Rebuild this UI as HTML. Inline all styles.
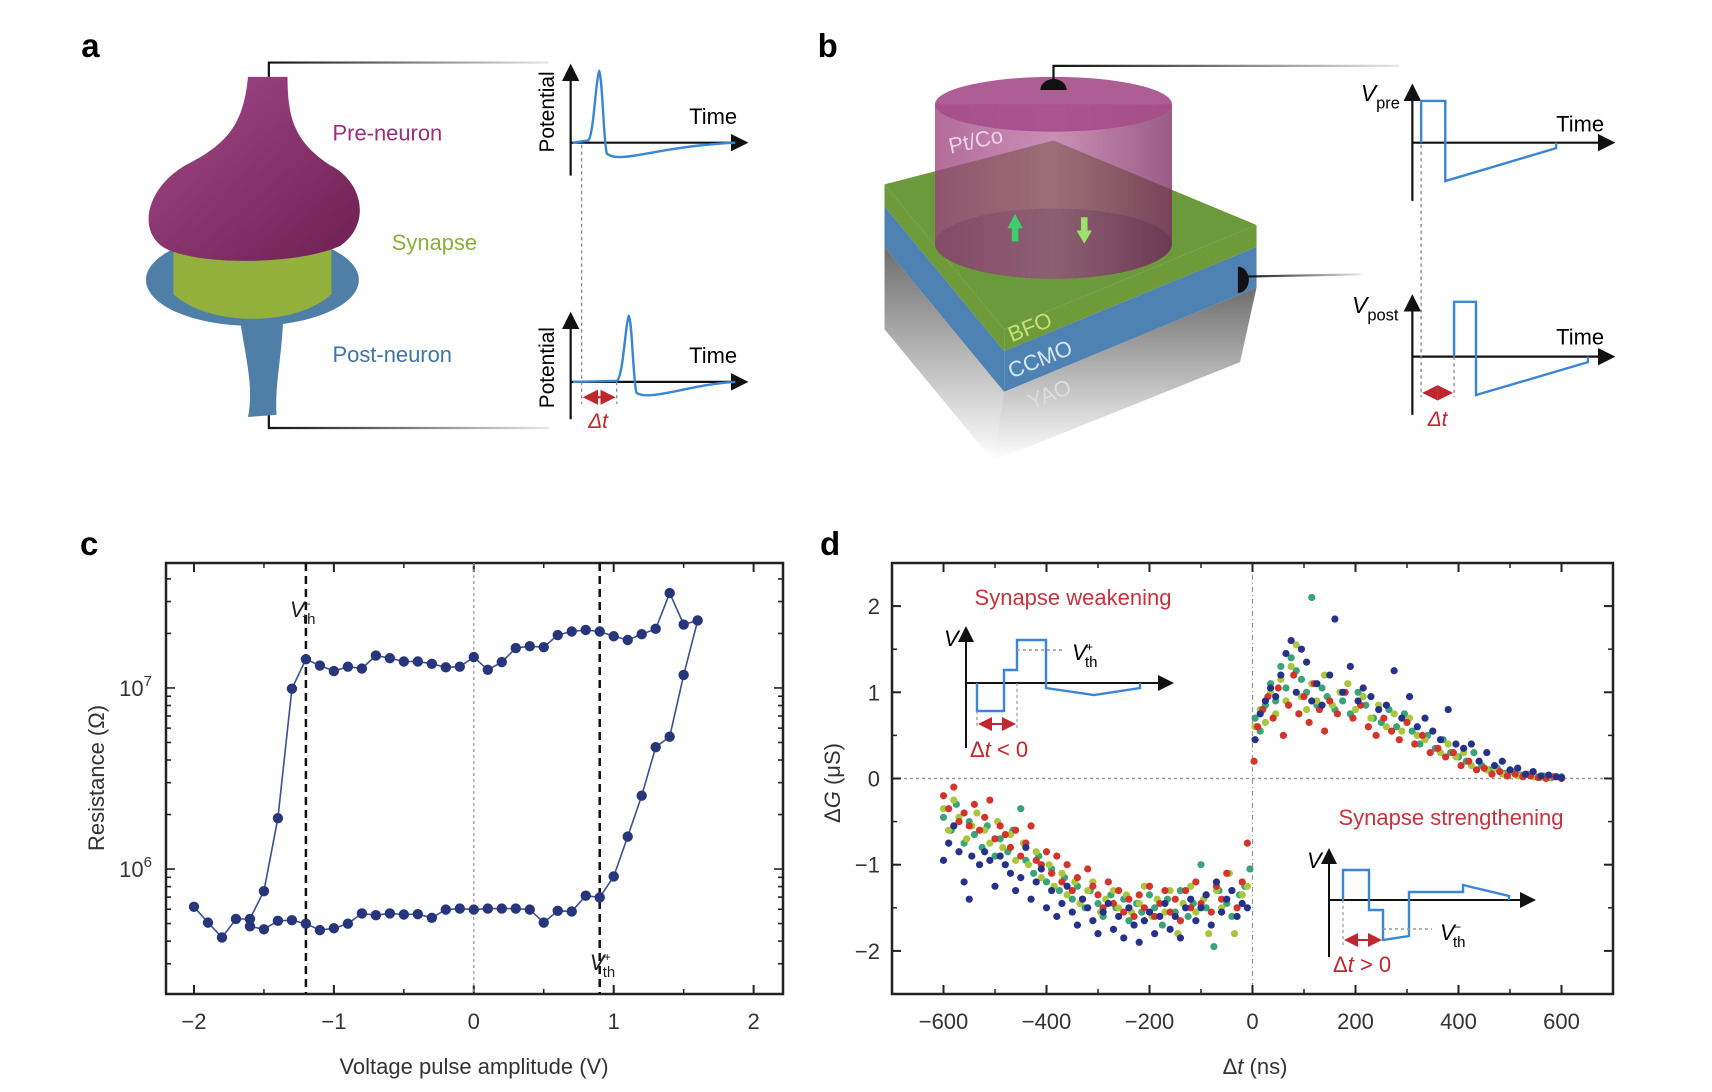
<!DOCTYPE html>
<html><head><meta charset="utf-8"><style>
html,body{margin:0;padding:0;background:#fff}
svg{display:block;font-family:"Liberation Sans",sans-serif}
</style></head><body>
<svg id="fig" width="1712" height="1092" viewBox="0 0 1712 1092" xmlns="http://www.w3.org/2000/svg">
<defs>
<linearGradient id="fadeLine" x1="0" x2="1"><stop offset="0" stop-color="#111"/><stop offset="1" stop-color="#111" stop-opacity="0.1"/></linearGradient>
<linearGradient id="purp" x1="0" y1="0" x2="1" y2="1"><stop offset="0" stop-color="#a24a8a"/><stop offset="1" stop-color="#6e1f52"/></linearGradient>
<linearGradient id="cyl" x1="0" x2="1"><stop offset="0" stop-color="#9a3f7c" stop-opacity="0.9"/><stop offset="0.5" stop-color="#b15a92" stop-opacity="0.8"/><stop offset="1" stop-color="#7a2a5f" stop-opacity="0.9"/></linearGradient>
<linearGradient id="grayfade" x1="0" y1="0" x2="0" y2="1"><stop offset="0" stop-color="#6e6e6e"/><stop offset="1" stop-color="#6e6e6e" stop-opacity="0"/></linearGradient>
<marker id="arr" markerWidth="8" markerHeight="8" refX="6" refY="4" orient="auto"><path d="M0,0 L8,4 L0,8 Z" fill="#111"/></marker>
<marker id="rarrE" markerWidth="7" markerHeight="7" refX="6" refY="3.5" orient="auto"><path d="M0,0 L7,3.5 L0,7 Z" fill="#c0262d"/></marker>
<marker id="rarrS" markerWidth="7" markerHeight="7" refX="1" refY="3.5" orient="auto"><path d="M7,0 L0,3.5 L7,7 Z" fill="#c0262d"/></marker>
</defs>

<g transform="scale(1.0974)">
 <g>
  <text x="74" y="52" font-size="30" font-weight="bold">a</text>
  <polyline points="245,70 245,57 500,57" fill="none" stroke="url(#fadeLine)" stroke-width="2"/>
  <polyline points="245,378 245,390 500,390" fill="none" stroke="url(#fadeLine)" stroke-width="2"/>
  <ellipse cx="230" cy="255" rx="97" ry="42" fill="#4f7fa6"/>
  <path d="M218,285 C222,320 232,350 226,380 L252,378 C250,350 258,320 258,285 Z" fill="#4f7fa6"/>
  <path d="M158,222 L302,222 L302,268 C270,298 190,298 158,268 Z" fill="#93b03c"/>
  <path d="M226,70 L262,70 C262,110 270,130 300,150 C332,166 338,205 310,224 C270,242 180,242 150,226 C124,210 134,170 170,150 C210,130 222,110 226,70 Z" fill="url(#purp)"/>
  <text x="303" y="128" font-size="20" fill="#9b2d7a">Pre-neuron</text>
  <text x="357" y="228" font-size="20" fill="#8fad3a">Synapse</text>
  <text x="303" y="330" font-size="20" fill="#3e74a6">Post-neuron</text>
  <g>
   <line x1="520" y1="160" x2="520" y2="62" stroke="#111" stroke-width="2" marker-end="url(#arr)"/>
   <line x1="520" y1="130" x2="678" y2="130" stroke="#111" stroke-width="2" marker-end="url(#arr)"/>
   <path d="M522,130 L536,128 C541,124 543,70 546,65 C549,70 550,130 553,140 C565,150 600,133 670,130" fill="none" stroke="#3a86d4" stroke-width="2.2"/>
   <text x="628" y="113" font-size="20">Time</text>
   <text transform="translate(505,102) rotate(-90)" text-anchor="middle" font-size="19">Potential</text>
  </g>
  <line x1="530" y1="132" x2="530" y2="368" stroke="#888" stroke-width="1.2" stroke-dasharray="3,3"/>
  <g>
   <line x1="520" y1="382" x2="520" y2="288" stroke="#111" stroke-width="2" marker-end="url(#arr)"/>
   <line x1="520" y1="348" x2="678" y2="348" stroke="#111" stroke-width="2" marker-end="url(#arr)"/>
   <path d="M522,348 L562,347 C568,344 570,292 573,288 C576,292 577,348 580,358 C592,366 630,350 670,348" fill="none" stroke="#3a86d4" stroke-width="2.2"/>
   <line x1="562" y1="348" x2="562" y2="368" stroke="#888" stroke-width="1.2" stroke-dasharray="3,3"/>
   <line x1="533" y1="362" x2="559" y2="362" stroke="#c0262d" stroke-width="2" marker-end="url(#rarrE)" marker-start="url(#rarrS)"/>
   <text x="545" y="390" font-size="19" fill="#c0262d" text-anchor="middle" font-style="italic">Δt</text>
   <text x="628" y="331" font-size="20">Time</text>
   <text transform="translate(505,335) rotate(-90)" text-anchor="middle" font-size="19">Potential</text>
  </g>
 </g>

 <g>
  <text x="745" y="52" font-size="30" font-weight="bold">b</text>
  <g>
   <polygon points="806,168 915,300 915,320 806,188" fill="#6f9a3a"/>
   <polygon points="806,188 915,320 915,357 806,225" fill="#4d82b3"/>
   <polygon points="806,225 915,357 905,420 806,300" fill="url(#grayfade)"/>
   <polygon points="915,300 1145,205 1145,225 915,320" fill="#6f9a3a"/>
   <polygon points="915,320 1145,225 1145,262 915,357" fill="#4d82b3"/>
   <polygon points="915,357 1145,262 1130,330 905,420" fill="url(#grayfade)"/>
   <polygon points="806,168 960,128 1145,205 915,300" fill="#6b9a3c"/>
   <text transform="translate(922,312) rotate(-22)" font-size="20" fill="#c4e07a">BFO</text>
   <text transform="translate(922,345) rotate(-22)" font-size="20" fill="#d8e6f2">CCMO</text>
   <text transform="translate(940,373) rotate(-22)" font-size="20" fill="#dddddd">YAO</text>
  </g>
  <g>
   <ellipse cx="960" cy="222" rx="108" ry="32" fill="#3e6a2c"/>
   <path d="M852,95 L852,222 A108,32 0 0 0 1068,222 L1068,95 Z" fill="url(#cyl)" opacity="0.85"/>
   <ellipse cx="960" cy="95" rx="108" ry="25" fill="#a64c89" opacity="0.9"/>
   <path d="M925,195 L932,208 L928,208 L928,220 L922,220 L922,208 L918,208 Z" fill="#3fcf6a"/>
   <path d="M988,222 L995,210 L991,210 L991,198 L985,198 L985,210 L981,210 Z" fill="#9be36a"/>
   <text transform="translate(866,140) rotate(-12)" font-size="20" fill="#f0d0e6">Pt/Co</text>
   <path d="M948,82 A12,10 0 0 1 972,82 Z" fill="#111"/>
  </g>
  <polyline points="960,78 960,60 1275,60" fill="none" stroke="url(#fadeLine)" stroke-width="2"/>
  <path d="M1128,243 A10,12 0 0 1 1128,267 Z" fill="#111"/>
  <line x1="1135" y1="252" x2="1240" y2="250" stroke="url(#fadeLine)" stroke-width="2"/>
  <g>
   <line x1="1287" y1="183" x2="1287" y2="80" stroke="#111" stroke-width="2" marker-end="url(#arr)"/>
   <line x1="1287" y1="130" x2="1468" y2="130" stroke="#111" stroke-width="2" marker-end="url(#arr)"/>
   <polyline points="1295,130 1295,92 1317,92 1317,165 1418,135 1418,130" fill="none" stroke="#3a86d4" stroke-width="2.2"/>
   <text x="1240" y="92" font-size="21" font-style="italic">V<tspan font-size="15" font-style="normal" dy="7">pre</tspan></text>
   <text x="1418" y="120" font-size="20">Time</text>
  </g>
  <g>
   <line x1="1287" y1="378" x2="1287" y2="272" stroke="#111" stroke-width="2" marker-end="url(#arr)"/>
   <line x1="1287" y1="325" x2="1468" y2="325" stroke="#111" stroke-width="2" marker-end="url(#arr)"/>
   <polyline points="1325,325 1325,275 1345,275 1345,360 1447,330 1447,325" fill="none" stroke="#3a86d4" stroke-width="2.2"/>
   <line x1="1295" y1="132" x2="1295" y2="362" stroke="#888" stroke-width="1.2" stroke-dasharray="3,3"/>
   <line x1="1325" y1="325" x2="1325" y2="362" stroke="#888" stroke-width="1.2" stroke-dasharray="3,3"/>
   <line x1="1298" y1="358" x2="1322" y2="358" stroke="#c0262d" stroke-width="2" marker-end="url(#rarrE)" marker-start="url(#rarrS)"/>
   <text x="1310" y="388" font-size="19" fill="#c0262d" text-anchor="middle" font-style="italic">Δt</text>
   <text x="1232" y="285" font-size="21" font-style="italic">V<tspan font-size="15" font-style="normal" dy="7">post</tspan></text>
   <text x="1418" y="314" font-size="20">Time</text>
  </g>
 </g>
</g>

<text x="80" y="555" font-size="33" font-weight="bold">c</text>
<text x="820" y="555" font-size="33" font-weight="bold">d</text>
<g id="chartC"></g>
<g id="chartD"></g>
</svg>

<script>
const cVoltages = [-1.6,-1.5,-1.4,-1.3,-1.2,-1.1,-1.0,-0.9,-0.8,-0.7,-0.6,-0.5,-0.4,-0.3,-0.2,-0.1,0,0.1,0.2,0.3,0.4,0.5,0.6,0.7,0.8,0.9,1.0,1.1,1.2,1.3,1.4,1.5,1.6,
 1.5,1.4,1.3,1.2,1.1,1.0,0.9,0.8,0.7,0.6,0.5,0.4,0.3,0.2,0.1,0,-0.1,-0.2,-0.3,-0.4,-0.5,-0.6,-0.7,-0.8,-0.9,-1.0,-1.1,-1.2,-1.3,-1.4,-1.5,-1.6,-1.7,-1.8,-1.9,-2.0];
const cResistance = [4.83e5,4.65e5,5.18e5,5.22e5,4.99e5,4.60e5,4.71e5,4.99e5,5.69e5,5.56e5,5.69e5,5.61e5,5.63e5,5.38e5,5.97e5,6.05e5,5.97e5,6.05e5,6.05e5,6.05e5,5.97e5,5.06e5,5.88e5,5.83e5,7.13e5,6.97e5,9.1e5,1.51e6,2.54e6,4.71e6,5.38e6,1.18e7,2.36e7,
 2.24e7,3.34e7,2.12e7,1.98e7,1.84e7,1.93e7,2.05e7,2.09e7,2.05e7,1.96e7,1.68e7,1.70e7,1.66e7,1.39e7,1.26e7,1.48e7,1.31e7,1.30e7,1.36e7,1.40e7,1.40e7,1.46e7,1.51e7,1.28e7,1.31e7,1.24e7,1.33e7,1.44e7,9.9e6,1.91e6,7.55e5,5.30e5,5.30e5,4.19e5,5.06e5,6.19e5];
const cXTicks = [-2,-1,0,1,2];
const cXMinor = [-1.5,-0.5,0.5,1.5];
const cYDecades = [6,7];
const cThresholds = [-1.2, 0.9];

const dBlueDt = [-600,-590,-580,-570,-560,-550,-545,-530,-520,-510,-500,-490,-480,-470,-460,-450,-440,-430,-420,-410,-400,-390,-380,-370,-360,-350,-340,-330,-320,-310,-300,-290,-280,-270,-260,-250,-240,-230,-220,-210,-200,-190,-180,-170,-160,-150,-140,-130,-120,-110,-100,-90,-80,-70,-60,-50,-40,-30,-20,-10,
 5,15,25,35,45,55,65,75,85,95,105,115,125,135,150,160,175,190,205,215,230,245,260,275,290,305,320,335,350,365,380,395,410,425,440,455,470,485,500,515,530,545,560,575,590,600];
const dBlueDg = [-0.95,-0.75,-0.55,-0.85,-1.2,-1.4,-0.9,-1.0,-0.85,-0.95,-1.25,-0.9,-1.0,-1.1,-1.3,-1.15,-0.8,-1.4,-1.2,-1.05,-1.5,-1.3,-1.6,-1.45,-1.25,-1.55,-1.7,-1.4,-1.5,-1.65,-1.8,-1.55,-1.45,-1.75,-1.6,-1.85,-1.5,-1.7,-1.9,-1.65,-1.55,-1.8,-1.6,-1.45,-1.75,-1.6,-1.85,-1.5,-1.4,-1.65,-1.5,-1.35,-1.7,-1.2,-1.55,-1.4,-1.3,-1.6,-1.45,-1.5,
 0.45,0.75,0.9,1.05,0.95,1.2,1.45,1.6,1.0,1.5,1.35,0.9,1.1,0.85,1.2,1.85,1.0,1.3,0.9,1.05,0.95,0.8,0.85,1.25,0.7,0.95,0.6,0.7,0.55,0.45,0.8,0.4,0.35,0.4,0.2,0.3,0.15,0.2,0.1,0.12,0.05,0.08,0.03,0.04,0.02,0.01];
const dRedDt = [-600,-590,-580,-570,-560,-550,-540,-530,-520,-510,-500,-490,-480,-470,-460,-450,-440,-430,-420,-410,-400,-390,-380,-370,-360,-350,-340,-330,-320,-310,-300,-290,-280,-270,-260,-250,-240,-230,-220,-210,-200,-190,-180,-170,-160,-150,-140,-130,-120,-110,-100,-90,-80,-70,-60,-50,-40,-30,-20,-10,
 3,10,20,30,40,50,60,70,80,90,100,110,120,130,140,150,165,180,195,210,225,240,255,270,285,300,315,330,345,360,375,390,405,420,435,450,465,480,495,510,525,540,555,570,585,600];
const dRedDg = [-0.2,-0.35,-0.1,-0.5,-0.4,-0.55,-0.3,-0.6,-0.45,-0.25,-0.7,-0.55,-0.65,-0.8,-0.6,-0.9,-0.75,-0.55,-0.95,-1.0,-0.85,-1.1,-0.9,-1.2,-1.0,-1.3,-1.15,-1.4,-1.05,-1.25,-1.35,-1.5,-1.2,-1.45,-1.3,-1.55,-1.4,-1.6,-1.35,-1.5,-1.25,-1.6,-1.45,-1.3,-1.55,-1.4,-1.65,-1.3,-1.5,-1.2,-1.45,-1.35,-1.55,-1.25,-1.4,-1.1,-1.3,-1.5,-1.2,-0.75,
 0.2,0.6,0.8,0.95,0.7,1.05,0.5,0.85,1.2,0.75,0.95,0.65,1.1,0.8,0.55,0.9,0.75,1.0,0.7,0.85,0.6,0.5,0.7,0.55,0.45,0.65,0.4,0.5,0.3,0.35,0.25,0.3,0.15,0.2,0.1,0.12,0.05,0.08,0.03,0.05,0.02,0.03,0.01,0.0,0.02,0.0];
const dGreenDt = [-600,-585,-575,-560,-550,-540,-525,-515,-500,-490,-475,-465,-450,-440,-425,-415,-400,-390,-375,-365,-350,-340,-325,-315,-300,-290,-275,-265,-250,-240,-225,-215,-200,-190,-175,-165,-150,-140,-125,-115,-100,-90,-75,-65,-50,-40,-25,-15,-5,
 5,15,25,35,45,55,65,75,85,95,105,115,125,135,145,160,175,190,205,220,235,250,265,280,295,310,325,340,355,370,385,400,415,430,445,460,475,490,505,520,535,550,565,580,600];
const dGreenDg = [-0.45,-0.6,-0.3,-0.75,-0.5,-0.65,-0.8,-0.55,-0.9,-0.7,-0.85,-0.6,-0.35,-0.95,-1.1,-0.9,-1.2,-1.05,-1.3,-1.15,-1.4,-1.25,-1.5,-1.3,-1.45,-1.6,-1.35,-1.5,-1.4,-1.65,-1.45,-1.55,-1.35,-1.5,-1.7,-1.4,-1.55,-1.3,-1.6,-1.45,-1.0,-1.5,-1.95,-1.3,-1.45,-1.6,-1.35,-1.25,-1.05,
 0.7,0.55,0.85,1.1,0.9,1.3,1.05,1.4,1.25,1.15,1.0,2.1,0.85,1.05,0.95,0.8,0.9,0.75,1.0,0.85,0.7,0.65,0.8,0.6,0.75,0.55,0.4,0.5,0.35,0.45,0.3,0.25,0.2,0.3,0.15,0.1,0.12,0.06,0.08,0.04,0.05,0.02,0.03,0.01,0.02];
const dYellowDt = [-600,-590,-580,-570,-555,-545,-535,-520,-510,-495,-485,-470,-460,-445,-435,-420,-410,-395,-385,-370,-360,-345,-335,-320,-310,-295,-285,-270,-260,-245,-235,-220,-210,-195,-185,-170,-160,-145,-135,-120,-110,-95,-85,-70,-60,-45,-35,-20,-10,
 5,15,25,35,45,55,65,75,85,95,105,115,125,140,155,170,185,200,215,230,245,260,275,290,305,320,335,350,365,380,395,410,425,440,455,470,485,500,515,530,545,560,580,600];
const dYellowDg = [-0.35,-0.6,-0.25,-0.45,-0.7,-0.55,-0.4,-0.6,-0.75,-0.5,-0.8,-0.65,-0.95,-0.75,-1.0,-0.85,-1.15,-1.0,-1.25,-1.1,-1.35,-1.2,-1.45,-1.3,-1.2,-1.55,-1.4,-1.3,-1.5,-1.35,-1.55,-1.45,-1.25,-1.6,-1.4,-1.55,-1.3,-1.8,-1.45,-1.25,-1.55,-1.4,-1.8,-1.3,-1.5,-1.1,-1.8,-1.35,-1.25,
 0.6,0.8,0.65,1.0,0.75,1.15,0.9,1.3,1.55,0.95,0.8,1.1,0.9,1.2,0.85,1.0,1.1,0.8,0.95,0.7,0.85,0.6,0.75,0.55,0.7,0.5,0.45,0.55,0.3,0.4,0.25,0.3,0.15,0.2,0.1,0.12,0.05,0.08,0.03,0.04,0.02,0.01,0.02,0.0];
const dXTicks = [-600,-400,-200,0,200,400,600];
const dXMinor = [-500,-300,-100,100,300,500];
const dYTicks = [-2,-1,0,1,2];
const dYMinor = [-1.5,-0.5,0.5,1.5];

const NS = 'http://www.w3.org/2000/svg';
function mk(parent, tag, attrs, text){
  const e = document.createElementNS(NS, tag);
  for (const k in attrs) e.setAttribute(k, attrs[k]);
  if (text !== undefined) e.textContent = text;
  parent.appendChild(e);
  return e;
}
function vthLabel(g, x, y, sign, name){
  const t = mk(g,'text',{x:x,y:y,'font-size':22,'font-style':'italic',fill:'#222'},'V');
  
  
  mk(t,'tspan',{x:x+14,y:y-9,'font-size':12,'font-style':'normal'},sign);
  mk(t,'tspan',{x:x+13,y:y+7,'font-size':15,'font-style':'normal'},'th');
  return t;
}

(function(){
  const g = document.getElementById('chartC');
  const L=166, R=783, T=563, B=994;
  const xmin=-2.2, xmax=2.21, lmin=5.31, lmax=7.69;
  const X = v => L + (v - xmin) / (xmax - xmin) * (R - L);
  const Y = r => B - (Math.log10(r) - lmin) / (lmax - lmin) * (B - T);
  const frame = mk(g,'rect',{x:L,y:T,width:R-L,height:B-T,fill:'none',stroke:'#222','stroke-width':2.5});
  
  
  cXTicks.forEach(t=>{
    const x=X(t);
    mk(g,'line',{x1:x,y1:B,x2:x,y2:B-9,stroke:'#222','stroke-width':2});
    mk(g,'line',{x1:x,y1:T,x2:x,y2:T+9,stroke:'#222','stroke-width':2});
    const lb = mk(g,'text',{x:x,y:1029,'text-anchor':'middle','font-size':22,fill:'#333'}, t<0?'\u2212'+(-t):String(t));
    
    
  });
  cXMinor.forEach(t=>{
    const x=X(t);
    mk(g,'line',{x1:x,y1:B,x2:x,y2:B-5,stroke:'#222','stroke-width':1.5});
    mk(g,'line',{x1:x,y1:T,x2:x,y2:T+5,stroke:'#222','stroke-width':1.5});
  });
  for (let d=5; d<=7; d++){
    for (let m=1; m<=9; m++){
      const r = m*Math.pow(10,d);
      const lg = Math.log10(r);
      if (lg<lmin||lg>lmax) continue;
      const y=Y(r), len = m===1?9:5;
      mk(g,'line',{x1:L,y1:y,x2:L+len,y2:y,stroke:'#222','stroke-width':1.6});
      mk(g,'line',{x1:R,y1:y,x2:R-len,y2:y,stroke:'#222','stroke-width':1.6});
    }
  }
  cYDecades.forEach(d=>{
    const y=Y(Math.pow(10,d));
    const t = mk(g,'text',{x:152,y:y+8,'text-anchor':'end','font-size':22,fill:'#333'});
    
    
    mk(t,'tspan',{},'10');
    mk(t,'tspan',{dy:-10,'font-size':15},String(d));
  });
  const z = mk(g,'line',{x1:X(0),y1:T,x2:X(0),y2:B,stroke:'#999','stroke-width':1.2,'stroke-dasharray':'3,3'});
  
  
  cThresholds.forEach(v=>{
    const l = mk(g,'line',{x1:X(v),y1:T,x2:X(v),y2:B,stroke:'#111','stroke-width':2.5,'stroke-dasharray':'8,5'});
    
    
  });
  vthLabel(g, X(cThresholds[0])-16, 617, '\u2212', 'vth-minus-label');
  vthLabel(g, X(cThresholds[1])-10, 970, '+', 'vth-plus-label');
  const pts = cVoltages.map((v,i)=>X(v).toFixed(1)+','+Y(cResistance[i]).toFixed(1)).join(' ');
  const ln = mk(g,'polyline',{points:pts,fill:'none',stroke:'#3e4f8f','stroke-width':1.6});
  
  
  cVoltages.forEach((v,i)=>{
    const c = mk(g,'circle',{cx:X(v),cy:Y(cResistance[i]),r:5.2,fill:'#27357a'});
    
    
  });
  const yt = mk(g,'text',{transform:'translate(104,778) rotate(-90)','text-anchor':'middle','font-size':22,fill:'#333'},'Resistance (\u03A9)');
  
  
  const xt = mk(g,'text',{x:474,y:1074,'text-anchor':'middle','font-size':22,fill:'#333'},'Voltage pulse amplitude (V)');
  
  
})();

(function(){
  const g = document.getElementById('chartD');
  const L=892, R=1613, T=563, B=994;
  const xmin=-700, xmax=700, ymin=-2.5, ymax=2.5;
  const X = v => L + (v - xmin)/(xmax - xmin)*(R - L);
  const Y = v => B - (v - ymin)/(ymax - ymin)*(B - T);
  const z1 = mk(g,'line',{x1:L,y1:Y(0),x2:R,y2:Y(0),stroke:'#999','stroke-width':1.5,'stroke-dasharray':'3,3'});
  
  
  const z2 = mk(g,'line',{x1:X(0),y1:T,x2:X(0),y2:B,stroke:'#999','stroke-width':1.2,'stroke-dasharray':'5,3,1,3'});
  
  
  const series = [[dGreenDt,dGreenDg,'#3aa37a','green'],[dYellowDt,dYellowDg,'#a9c73c','yellow'],[dRedDt,dRedDg,'#d2352b','red'],[dBlueDt,dBlueDg,'#26328a','blue']];
  series.forEach(s=>{
    s[0].forEach((t,i)=>{
      const c = mk(g,'circle',{cx:X(t),cy:Y(s[1][i]),r:3.6,fill:s[2]});
      
      
    });
  });
  const frame = mk(g,'rect',{x:L,y:T,width:R-L,height:B-T,fill:'none',stroke:'#222','stroke-width':2.5});
  
  
  dXTicks.forEach(t=>{
    const x=X(t);
    mk(g,'line',{x1:x,y1:B,x2:x,y2:B-9,stroke:'#222','stroke-width':2});
    mk(g,'line',{x1:x,y1:T,x2:x,y2:T+9,stroke:'#222','stroke-width':2});
    const lb = mk(g,'text',{x:x,y:1029,'text-anchor':'middle','font-size':22,fill:'#333'}, t<0?'\u2212'+(-t):String(t));
    
    
  });
  dXMinor.forEach(t=>{
    const x=X(t);
    mk(g,'line',{x1:x,y1:B,x2:x,y2:B-5,stroke:'#222','stroke-width':1.5});
    mk(g,'line',{x1:x,y1:T,x2:x,y2:T+5,stroke:'#222','stroke-width':1.5});
  });
  dYTicks.forEach(t=>{
    const y=Y(t);
    mk(g,'line',{x1:L,y1:y,x2:L+9,y2:y,stroke:'#222','stroke-width':2});
    mk(g,'line',{x1:R,y1:y,x2:R-9,y2:y,stroke:'#222','stroke-width':2});
    const lb = mk(g,'text',{x:880,y:y+8,'text-anchor':'end','font-size':22,fill:'#333'}, t<0?'\u2212'+(-t):String(t));
    
    
  });
  dYMinor.forEach(t=>{
    const y=Y(t);
    mk(g,'line',{x1:L,y1:y,x2:L+5,y2:y,stroke:'#222','stroke-width':1.5});
    mk(g,'line',{x1:R,y1:y,x2:R-5,y2:y,stroke:'#222','stroke-width':1.5});
  });
  const yt = mk(g,'text',{transform:'translate(840,783) rotate(-90)','text-anchor':'middle','font-size':22,fill:'#333'});
  
  
  mk(yt,'tspan',{},'\u0394');
  mk(yt,'tspan',{'font-style':'italic'},'G');
  mk(yt,'tspan',{},' (\u03BCS)');
  const xt = mk(g,'text',{x:1255,y:1074,'text-anchor':'middle','font-size':22,fill:'#333'});
  
  
  mk(xt,'tspan',{},'\u0394');
  mk(xt,'tspan',{'font-style':'italic'},'t');
  mk(xt,'tspan',{},' (ns)');
})();
</script>

<svg width="1712" height="1092" viewBox="0 0 1712 1092" style="position:absolute;left:0;top:0;pointer-events:none;font-family:'Liberation Sans',sans-serif">
 <defs>
  <marker id="arr2" markerWidth="8" markerHeight="8" refX="6" refY="4" orient="auto"><path d="M0,0 L8,4 L0,8 Z" fill="#111"/></marker>
  <marker id="rE" markerWidth="7" markerHeight="7" refX="6" refY="3.5" orient="auto"><path d="M0,0 L7,3.5 L0,7 Z" fill="#c0262d"/></marker>
  <marker id="rS" markerWidth="7" markerHeight="7" refX="1" refY="3.5" orient="auto"><path d="M7,0 L0,3.5 L7,7 Z" fill="#c0262d"/></marker>
 </defs>
 <g>
  <text x="1073" y="605" text-anchor="middle" font-size="22" fill="#c8323c">Synapse weakening</text>
  <line x1="966" y1="748" x2="966" y2="630" stroke="#111" stroke-width="2" marker-end="url(#arr2)"/>
  <line x1="966" y1="683" x2="1170" y2="683" stroke="#111" stroke-width="2" marker-end="url(#arr2)"/>
  <polyline points="977,683 977,711 1004,711 1004,670 1017,670 1017,640 1046,640 1046,688 1094,695 1140,688 1140,683" fill="none" stroke="#3a86d4" stroke-width="2.4"/>
  <line x1="1017" y1="650" x2="1065" y2="650" stroke="#999" stroke-width="1.5" stroke-dasharray="3,3"/>
  <line x1="977" y1="711" x2="977" y2="728" stroke="#999" stroke-width="1.2" stroke-dasharray="3,3"/>
  <line x1="1017" y1="683" x2="1017" y2="728" stroke="#999" stroke-width="1.2" stroke-dasharray="3,3"/>
  <line x1="980" y1="724" x2="1014" y2="724" stroke="#c0262d" stroke-width="2" marker-end="url(#rE)" marker-start="url(#rS)"/>
  <text x="944" y="646" font-size="22" font-style="italic">V</text>
  <text x="1072" y="660" font-size="22" font-style="italic">V<tspan x="1086" y="651" font-size="12" font-style="normal">+</tspan><tspan x="1085" y="667" font-size="15" font-style="normal">th</tspan></text>
  <text x="970" y="757" font-size="22" fill="#c0262d"><tspan>Δ</tspan><tspan font-style="italic">t</tspan> &lt; 0</text>
 </g>
 <g>
  <text x="1451" y="825" text-anchor="middle" font-size="22" fill="#c8323c">Synapse strengthening</text>
  <line x1="1329" y1="957" x2="1329" y2="852" stroke="#111" stroke-width="2" marker-end="url(#arr2)"/>
  <line x1="1329" y1="900" x2="1532" y2="900" stroke="#111" stroke-width="2" marker-end="url(#arr2)"/>
  <polyline points="1343,900 1343,870 1369,870 1369,910 1383,910 1383,940 1409,936 1409,892 1463,892 1463,885 1509,896 1509,900" fill="none" stroke="#3a86d4" stroke-width="2.4"/>
  <line x1="1383" y1="929" x2="1432" y2="929" stroke="#999" stroke-width="1.5" stroke-dasharray="3,3"/>
  <line x1="1343" y1="900" x2="1343" y2="945" stroke="#999" stroke-width="1.2" stroke-dasharray="3,3"/>
  <line x1="1346" y1="940" x2="1380" y2="940" stroke="#c0262d" stroke-width="2" marker-end="url(#rE)" marker-start="url(#rS)"/>
  <text x="1307" y="868" font-size="22" font-style="italic">V</text>
  <text x="1440" y="940" font-size="22" font-style="italic">V<tspan x="1454" y="931" font-size="12" font-style="normal">−</tspan><tspan x="1453" y="947" font-size="15" font-style="normal">th</tspan></text>
  <text x="1333" y="972" font-size="22" fill="#c0262d"><tspan>Δ</tspan><tspan font-style="italic">t</tspan> &gt; 0</text>
 </g>
</svg>
</body></html>
